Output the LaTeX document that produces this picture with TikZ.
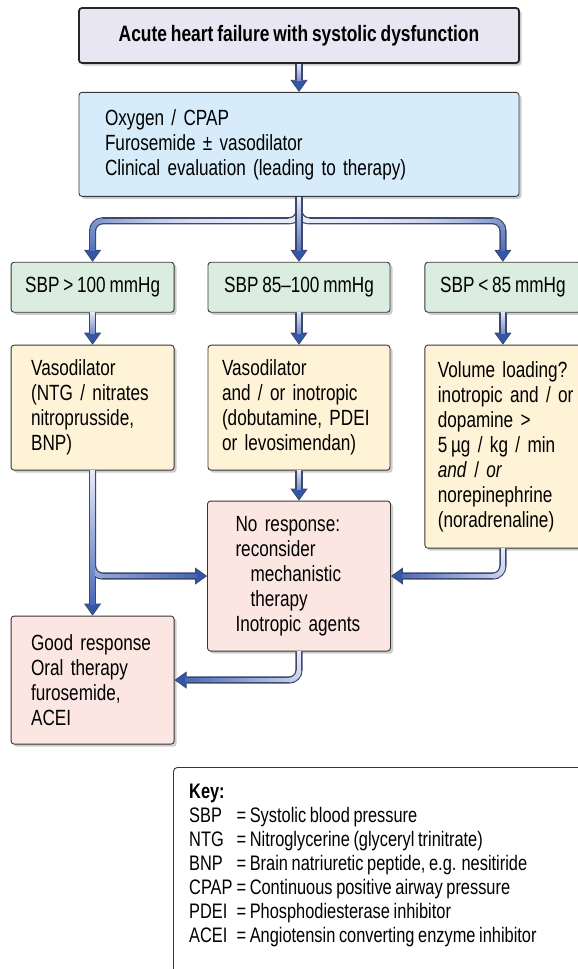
\documentclass[tikz,border=0pt]{standalone}
\usepackage{fontspec}
\setmainfont{Liberation Sans}[FakeStretch=0.78, WordSpace=0.8]
\usepackage{xcolor}
\definecolor{hdrfill}{RGB}{232,230,243}
\definecolor{oxyfill}{RGB}{214,236,250}
\definecolor{sbpfill}{RGB}{219,237,223}
\definecolor{drugfill}{RGB}{255,243,215}
\definecolor{outfill}{RGB}{252,230,226}
\definecolor{boxline}{RGB}{55,55,55}
\definecolor{arredge}{RGB}{62,72,108}
\definecolor{arrhead}{RGB}{50,86,168}
\definecolor{arrlight}{RGB}{232,234,248}
\definecolor{arrblue}{RGB}{60,95,178}
\usetikzlibrary{positioning,arrows.meta,shadows,decorations.markings}

\begin{document}
\begin{tikzpicture}[x=1pt, y=-1pt,
  box/.style={draw=boxline, line width=.9pt, rounded corners=3pt, font=\fontsize{22}{25}\selectfont,
    drop shadow={shadow xshift=2.5pt, shadow yshift=-2.5pt, fill=black, opacity=.2}},
  hdr/.style={box, fill=hdrfill, draw=black!85, line width=1.8pt, minimum width=440pt, minimum height=55pt,
    font=\fontsize{22.3}{25}\selectfont\bfseries},
  oxy/.style={box, fill=oxyfill, align=left, text width=388pt, inner xsep=26pt, minimum height=104pt},
  sbp/.style={box, fill=sbpfill, minimum height=50pt},
  drug/.style={box, fill=drugfill, align=left},
  outcome/.style={box, fill=outfill, align=left},
  keyframe/.style={draw=boxline, line width=.9pt, rounded corners=4pt},
  keytext/.style={inner sep=0pt, font=\fontsize{21}{24}\selectfont},
  shaft/.style={decorate, decoration={markings,
    mark=between positions .5pt and -11pt step 1pt with {
      \pgfmathtruncatemacro{\blend}{100*(\pgfkeysvalueof{/pgf/decoration/mark info/distance from start}/\pgfdecoratedpathlength)^#1}
      \fill[sharp corners, arrblue!\blend!arrlight] (-.8pt,-2.3pt) rectangle (.8pt,2.3pt);}}},
  shaft/.default=1,
  fatarr/.style={line width=7.2pt, draw=arredge, rounded corners=10pt,
    -{Triangle[length=12pt, width=17pt, fill=arrhead, line width=.8pt]},
    postaction={shaft=#1}},
  fatarr/.default=1]
\useasboundingbox (0,0) rectangle (578,969);
\clip (0,0) rectangle (578,969);
\node[hdr] (acute) at (299,35.5) {Acute heart failure with systolic dysfunction};
\node[oxy, below=28pt of acute] (first) {Oxygen / CPAP\\Furosemide ± vasodilator\\Clinical evaluation (leading to therapy)};
\node[sbp, minimum width=182pt, below=65pt of first] (sbpB) {SBP 85–100 mmHg};
\node[sbp, minimum width=163pt, left=33pt of sbpB] (sbpA) {SBP > 100 mmHg};
\node[sbp, minimum width=156pt, right=34pt of sbpB] (sbpC) {SBP < 85 mmHg};
\node[drug, text width=123pt, inner xsep=20pt, minimum height=125pt, below=32pt of sbpA] (vaso)
  {Vasodilator\\(NTG / nitrates\\nitroprusside,\\BNP)};
\node[drug, text width=154pt, inner xsep=14pt, minimum height=125pt, below=32pt of sbpB] (inot)
  {Vasodilator\\and / or inotropic\\(dobutamine, PDEI\\or levosimendan)};
\node[drug, text width=150pt, inner xsep=13pt, minimum height=203pt, below=32pt of sbpC.south west, anchor=north west] (vol)
  {Volume loading?\\inotropic and / or\\dopamine >\\5\,µg / kg / min\\\textit{and} / \textit{or}\\norepinephrine\\(noradrenaline)};
\node[outcome, text width=143pt, inner xsep=20pt, minimum height=150pt, below=30pt of inot] (nores)
  {\hspace*{8pt}No response:\\\hspace*{8pt}reconsider\\\hspace*{23pt}mechanistic\\\hspace*{23pt}therapy\\\hspace*{8pt}Inotropic agents};
\node[outcome, text width=123pt, inner xsep=20pt, minimum height=128pt, below=145pt of vaso] (good)
  {Good response\\Oral therapy\\furosemide,\\ACEI};
\node[keyframe, anchor=north west, minimum width=420pt, minimum height=230pt] (key) at (173,767) {};
\node[keytext, anchor=north west] (keylist) at (189,781) {%
  \begin{tabular}{@{}l@{\hspace{4pt}}l@{}}
  \multicolumn{2}{@{}l}{\bfseries Key:}\\
  SBP & = Systolic blood pressure\\
  NTG & = Nitroglycerine (glyceryl trinitrate)\\
  BNP & = Brain natriuretic peptide, e.g. nesitiride\\
  CPAP & = Continuous positive airway pressure\\
  PDEI & = Phosphodiesterase inhibitor\\
  ACEI & = Angiotensin converting enzyme inhibitor
  \end{tabular}};
\draw[fatarr] (acute) -- (first);
\draw[fatarr=3] (first.south) -- ++(0,24) -| (sbpA.north);
\draw[fatarr=3] (first.south) -- ++(0,24) -| (sbpC.north);
\draw[fatarr] (first) -- (sbpB);
\draw[fatarr] (sbpA) -- (vaso);
\draw[fatarr] (sbpB) -- (inot);
\draw[fatarr] (sbpC.south) -- (sbpC.south |- vol.north);
\draw[fatarr] (inot) -- (nores);
\draw[fatarr] (vaso) -- (good);
\draw[fatarr] (vaso.south) |- (nores.west);
\path[shaft] (vaso) -- (good);
\draw[fatarr] (sbpC |- vol.south) |- (nores.east);
\draw[fatarr] (nores.south) |- (good.east);
\end{tikzpicture}
\end{document}
